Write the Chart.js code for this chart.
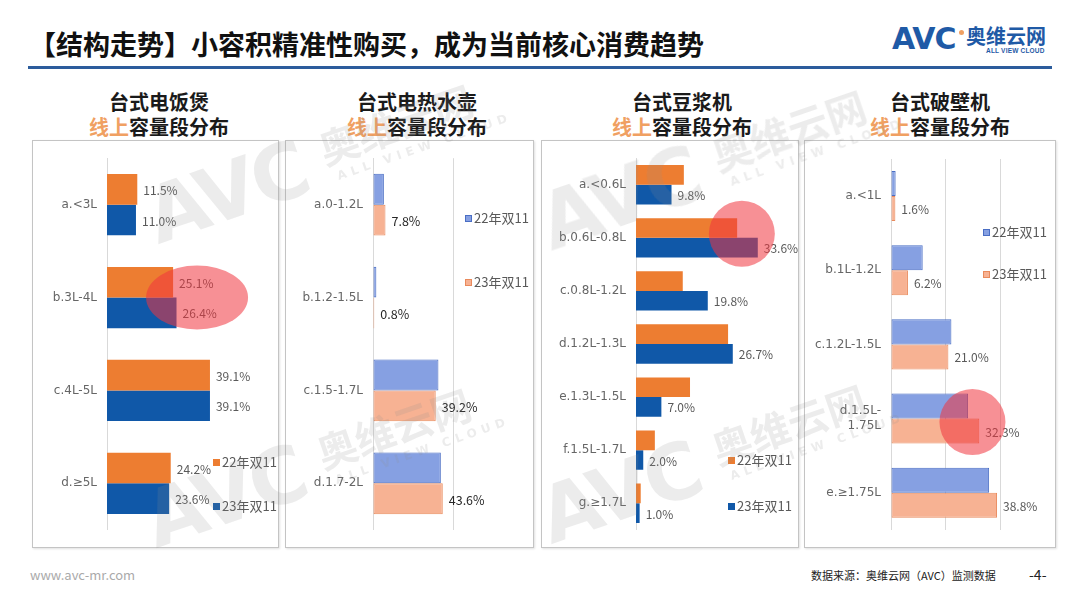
<!DOCTYPE html>
<html>
<head>
<meta charset="utf-8">
<script src="https://cdn.jsdelivr.net/npm/chart.js@4.4.0/dist/chart.umd.min.js"></script>
<style>
  body { margin: 0; width: 1080px; height: 608px; background: #fff; position: relative; overflow: hidden;
         font-family: "Noto Sans CJK SC", "Noto Sans", sans-serif; }
  .abs { position: absolute; }
  .head { left: 29px; top: 25px; font-size: 27px; line-height: 38px; font-weight: 700; color: #111; white-space: nowrap; }
  .rule { left: 28px; top: 66px; width: 1024px; height: 3px; background: #2c5c9c; }
  .box { border: 1px solid #c4c4c4; box-sizing: border-box; background: #fff; box-shadow: 1px 1px 2px rgba(0,0,0,0.12); }
  .ptitle { width: 240px; text-align: center; font-size: 20px; line-height: 25px; font-weight: 700; color: #1a1a1a; }
  .ptitle span { color: #f0a062; }
  .leg { font-size: 13px; color: #595959; line-height: 16px; white-space: nowrap; }
  .leg i { display: inline-block; width: 7px; height: 7px; margin-right: 2px; vertical-align: 1px; box-sizing: border-box; }
  .wm { color: rgba(140,140,140,0.17); font-weight: 700; white-space: nowrap; transform: rotate(-19deg); transform-origin: left bottom;
        z-index: 5; pointer-events: none; display: flex; align-items: flex-end; }
  .wm b { font-family: "DejaVu Sans", sans-serif; font-size: 78px; line-height: 66px; letter-spacing: -3px; }
  .wm div { margin-left: 10px; margin-bottom: 2px; }
  .wm .cn { font-size: 40px; line-height: 44px; }
  .wm .en { font-family: "DejaVu Sans", sans-serif; font-size: 12px; letter-spacing: 5px; line-height: 15px; margin-left: 18px; }
</style>
</head>
<body>

<div class="abs head">【结构走势】小容积精准性购买，成为当前核心消费趋势</div>
<div class="abs rule"></div>
<div class="abs" style="left:892px;top:21px;font-family:'DejaVu Sans',sans-serif;font-weight:700;font-size:30px;line-height:36px;color:#1f5aa6;letter-spacing:-1px;">AVC</div>
<div class="abs" style="left:959px;top:30px;width:5px;height:5px;border-radius:3px;background:#f0a062;"></div>
<div class="abs" style="left:966px;top:24px;font-size:20px;line-height:23px;font-weight:700;color:#1f5aa6;">奥维云网</div>
<div class="abs" style="left:986px;top:47px;font-family:'Liberation Sans',sans-serif;font-size:6.5px;line-height:8px;font-weight:700;color:#1f5aa6;letter-spacing:0.2px;">ALL VIEW CLOUD</div>

<div class="abs ptitle" style="left:39px;top:89px;">台式电饭煲<br><span>线上</span>容量段分布</div>
<div class="abs ptitle" style="left:297px;top:89px;">台式电热水壶<br><span>线上</span>容量段分布</div>
<div class="abs ptitle" style="left:562px;top:89px;">台式豆浆机<br><span>线上</span>容量段分布</div>
<div class="abs ptitle" style="left:820px;top:89px;">台式破壁机<br><span>线上</span>容量段分布</div>

<div id="boxes"></div>

<div class="abs wm" style="left:160px;bottom:358px;"><b>AVC</b><div><div class="cn">奥维云网</div><div class="en">ALL VIEW CLOUD</div></div></div>
<div class="abs wm" style="left:553px;bottom:352px;"><b>AVC</b><div><div class="cn">奥维云网</div><div class="en">ALL VIEW CLOUD</div></div></div>
<div class="abs wm" style="left:158px;bottom:54px;"><b>AVC</b><div><div class="cn">奥维云网</div><div class="en">ALL VIEW CLOUD</div></div></div>
<div class="abs wm" style="left:553px;bottom:58px;"><b>AVC</b><div><div class="cn">奥维云网</div><div class="en">ALL VIEW CLOUD</div></div></div>

<div class="abs" style="left:30px;top:566px;font-size:13px;line-height:18px;color:#aaaaaa;">www.avc-mr.com</div>
<div class="abs" style="left:811px;top:567px;font-size:11px;line-height:16px;color:#222;">数据来源：奥维云网（AVC）监测数据</div>
<div class="abs" style="left:1029px;top:565px;font-size:14px;line-height:18px;color:#222;">-4-</div>

<script>
// 台式电饭煲
const riceCats = ['a.<3L', 'b.3L-4L', 'c.4L-5L', 'd.≥5L'];
const rice22 = [11.5, 25.1, 39.1, 24.2];
const rice23 = [11.0, 26.4, 39.1, 23.6];

// 台式电热水壶
const kettleCats = ['a.0-1.2L', 'b.1.2-1.5L', 'c.1.5-1.7L', 'd.1.7-2L'];
const kettle22 = [6.8, 2.1, 40.9, 42.4];
const kettle23 = [7.8, 0.8, 39.2, 43.6];

// 台式豆浆机
const soyCats = ['a.<0.6L', 'b.0.6L-0.8L', 'c.0.8L-1.2L', 'd.1.2L-1.3L', 'e.1.3L-1.5L', 'f.1.5L-1.7L', 'g.≥1.7L'];
const soy22 = [13.2, 27.9, 12.9, 25.4, 14.9, 5.2, 1.3];
const soy23 = [9.8, 33.6, 19.8, 26.7, 7.0, 2.0, 1.0];

// 台式破壁机
const blenderCats = ['a.<1L', 'b.1L-1.2L', 'c.1.2L-1.5L', ['d.1.5L-', '1.75L'], 'e.≥1.75L'];
const blender22 = [1.7, 11.6, 22.1, 28.2, 35.9];
const blender23 = [1.6, 6.2, 21.0, 32.3, 38.8];

const seriesNames = ['22年双11', '23年双11'];

const ORANGE = '#ed7d31', BLUE = '#1058a8';
const LBLUE = '#86a0e2', LBLUE_B = '#4a6ec4';
const LORANGE = '#f7b293', LORANGE_B = '#e98a5c';

const panels = [
  { box: [32, 140, 279, 548], axisX: 107, top: 153, bottom: 537, right: 265, max: 60, grid: false, catPct: 0.66,
    cats: riceCats,
    sets: [{ data: rice22, bg: ORANGE, bd: ORANGE, bw: 0 }, { data: rice23, bg: BLUE, bd: BLUE, bw: 0 }],
    labelSets: [0, 1], labelColor: '#595959', labelFont: 12,
    mark: { index: 1, value: 34.2, dy: 0, rx: 51, ry: 32 },
    legend: [{ set: 0, x: 213, y: 462 }, { set: 1, x: 213, y: 506 }] },
  { box: [285, 140, 534, 548], axisX: 373, top: 155, bottom: 538, right: 534, max: 100, step: 50, grid: true, catPct: 0.665,
    cats: kettleCats,
    sets: [{ data: kettle22, bg: LBLUE, bd: LBLUE_B, bw: 1 }, { data: kettle23, bg: LORANGE, bd: LORANGE_B, bw: 1 }],
    labelSets: [1], labelColor: '#262626', labelFont: 12.5,
    legend: [{ set: 0, x: 465, y: 218 }, { set: 1, x: 465, y: 282 }] },
  { box: [541, 140, 799, 548], axisX: 636, top: 150, bottom: 538, right: 781, max: 40, grid: false, catPct: 0.74,
    cats: soyCats,
    sets: [{ data: soy22, bg: ORANGE, bd: ORANGE, bw: 0 }, { data: soy23, bg: BLUE, bd: BLUE, bw: 0 }],
    labelSets: [1], labelColor: '#595959', labelFont: 12,
    mark: { index: 1, value: 29.2, dy: -4, rx: 33, ry: 33 },
    legend: [{ set: 0, x: 728, y: 460 }, { set: 1, x: 728, y: 506 }] },
  { box: [804, 140, 1056, 548], axisX: 891, top: 159, bottom: 537, right: 1056, max: 60, step: 20, grid: true, catPct: 0.675,
    cats: blenderCats,
    sets: [{ data: blender22, bg: LBLUE, bd: LBLUE_B, bw: 1 }, { data: blender23, bg: LORANGE, bd: LORANGE_B, bw: 1 }],
    labelSets: [1], labelColor: '#595959', labelFont: 12,
    mark: { index: 3, value: 29.8, dy: 3.5, rx: 33, ry: 33 },
    legend: [{ set: 0, x: 983, y: 232 }, { set: 1, x: 983, y: 274 }] }
];

// value labels at the end of bars
const valueLabels = {
  id: 'valueLabels',
  afterDatasetsDraw(chart, args, opts) {
    const ctx = chart.ctx;
    ctx.save();
    ctx.font = opts.size + 'px "Noto Sans CJK SC", sans-serif';
    ctx.fillStyle = opts.color;
    ctx.textBaseline = 'middle';
    opts.sets.forEach(di => {
      const meta = chart.getDatasetMeta(di);
      meta.data.forEach((bar, i) => {
        const v = chart.data.datasets[di].data[i];
        ctx.fillText(v.toFixed(1) + '%', bar.x + 6, bar.y + 1);
      });
    });
    ctx.restore();
  }
};

// translucent red highlight
const highlight = {
  id: 'highlight',
  afterDatasetsDraw(chart, args, m) {
    if (!m || m.value === undefined) return;
    const ctx = chart.ctx;
    const cx = chart.scales.x.getPixelForValue(m.value);
    const cy = chart.scales.y.getPixelForValue(m.index) + m.dy;
    ctx.save();
    ctx.fillStyle = 'rgba(240, 52, 62, 0.55)';
    ctx.beginPath();
    ctx.ellipse(cx, cy, m.rx, m.ry, 0, 0, Math.PI * 2);
    ctx.fill();
    ctx.restore();
  }
};

const boxes = document.getElementById('boxes');

panels.forEach(p => {
  const [l, t, r, b] = p.box;
  const box = document.createElement('div');
  box.className = 'abs box';
  box.style.cssText = `left:${l}px;top:${t}px;width:${r - l}px;height:${b - t}px;`;
  const cv = document.createElement('canvas');
  const w = r - l - 2, h = b - t - 2;
  cv.width = w; cv.height = h;
  cv.style.cssText = `position:absolute;left:0;top:0;width:${w}px;height:${h}px;`;
  box.appendChild(cv);
  boxes.appendChild(box);

  p.legend.forEach(lg => {
    const s = p.sets[lg.set];
    const d = document.createElement('div');
    d.className = 'abs leg';
    d.style.cssText = `left:${lg.x}px;top:${lg.y - 8}px;z-index:3;`;
    d.innerHTML = `<i style="background:${s.bg};border:${s.bw}px solid ${s.bd}"></i>${seriesNames[lg.set]}`;
    document.body.appendChild(d);
  });

  const ox = l + 1, oy = t + 1;
  new Chart(cv, {
    type: 'bar',
    data: {
      labels: p.cats,
      datasets: p.sets.map((s, i) => ({
        label: seriesNames[i],
        data: s.data,
        backgroundColor: s.bg,
        borderColor: s.bd,
        borderWidth: s.bw,
        borderSkipped: false,
        barPercentage: 1,
        categoryPercentage: p.catPct
      }))
    },
    options: {
      indexAxis: 'y',
      responsive: false,
      animation: false,
      layout: { padding: { left: 0, top: p.top - oy, bottom: (oy + h) - p.bottom, right: (ox + w) - p.right } },
      plugins: {
        legend: { display: false },
        tooltip: { enabled: false },
        valueLabels: { sets: p.labelSets, color: p.labelColor, size: p.labelFont },
        highlight: p.mark || {}
      },
      scales: {
        x: {
          min: 0, max: p.max,
          ticks: { display: false, stepSize: p.step || 10 },
          grid: { display: p.grid, color: '#d9d9d9', drawTicks: false },
          border: { display: false },
          afterFit: s => { s.height = 0; }
        },
        y: {
          grid: { display: false, drawTicks: false },
          border: { display: true, color: '#d9d9d9' },
          ticks: { color: '#666666', padding: 10, font: { size: 12, family: '"DejaVu Sans", sans-serif' } },
          afterFit: s => { s.width = p.axisX - ox; }
        }
      }
    },
    plugins: [valueLabels, highlight]
  });
});
</script>
</body>
</html>
